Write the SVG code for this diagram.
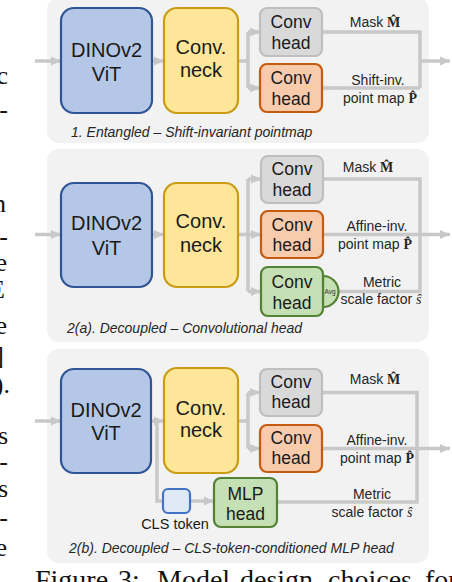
<svg xmlns="http://www.w3.org/2000/svg" width="452" height="582" viewBox="0 0 452 582">
<style>
.panel{fill:#f2f2f2}
.vit{fill:#b4c7e7;stroke:#2f5597;stroke-width:2.2}
.neck{fill:#ffe699;stroke:#c99c14;stroke-width:2.2}
.gray{fill:#d9d9d9;stroke:#bfbfbf;stroke-width:2.2}
.orange{fill:#f8cbad;stroke:#c55a11;stroke-width:2.2}
.green{fill:#c5e0b4;stroke:#548235;stroke-width:2.2}
.cls{fill:#deebf7;stroke:#4472c4;stroke-width:2.2}
.c{fill:none;stroke:#c8c8c8;stroke-width:3.5}
.a{marker-end:url(#ah)}
text{font-family:"Liberation Sans",Arial,sans-serif;fill:#1a1a1a}
.big{font-size:20px;text-anchor:middle}
.hd{font-size:17.5px;text-anchor:middle}
.lb{font-size:14px;text-anchor:middle;fill:#262626}
.cap{font-size:14px;font-style:italic;fill:#262626}
.sym{font-family:"Liberation Serif","DejaVu Serif",serif;font-weight:bold}
.si{font-family:"Liberation Serif","DejaVu Serif",serif;font-style:italic}
.pg{font-family:"Liberation Serif","Times New Roman",serif;font-size:28px;fill:#111}
.pgr{font-family:"Liberation Serif","Times New Roman",serif;font-size:26px;fill:#111;text-anchor:end}
</style>
<defs>
<marker id="ah" markerUnits="userSpaceOnUse" markerWidth="10" markerHeight="10" refX="10" refY="5" orient="auto">
<path d="M0,0.5 L10,5 L0,9.5 z" fill="#c8c8c8"/>
</marker>
</defs>
<rect width="452" height="582" fill="#ffffff"/>

<g id="page-text">
<text class="pgr" x="8" y="84">c</text>
<text class="pgr" x="8" y="118">-</text>
<text class="pgr" x="6" y="212">n</text>
<text class="pgr" x="8" y="245">t-</text>
<text class="pgr" x="7" y="271">e</text>
<text class="pgr" x="5" y="298">E</text>
<text class="pgr" x="7" y="334">e</text>
<text class="pgr" x="4" y="364">]</text>
<text class="pgr" x="10" y="393">).</text>
<text class="pgr" x="8" y="444">s</text>
<text class="pgr" x="8" y="470">-</text>
<text class="pgr" x="8" y="497">s</text>
<text class="pgr" x="8" y="526">-</text>
<text class="pgr" x="7" y="556">e</text>
<text class="pg" x="35" y="588.5">Figure</text>
<text class="pg" x="118" y="588.5">3:</text>
<text class="pg" x="157" y="588.5">Model</text>
<text class="pg" x="240" y="588.5">design</text>
<text class="pg" x="328" y="588.5">choices</text>
<text class="pg" x="425" y="588.5">for</text>
</g>

<g id="panels">
<rect class="panel" x="47" y="-2" width="382" height="145" rx="12"/>
<rect class="panel" x="47" y="149" width="382" height="193" rx="12"/>
<rect class="panel" x="47" y="349" width="382" height="214" rx="12"/>
</g>

<g id="connectors">
<path class="c a" d="M35,61 H61"/>
<path class="c a" d="M152,61 H164"/>
<path class="c" d="M238,61 H248 M248,32 V88"/>
<path class="c a" d="M248,32 H260"/>
<path class="c a" d="M248,88 H260"/>
<path class="c" d="M322,32 H420 V88 M322,88 H420"/>
<path class="c a" d="M420,61 H450"/>

<path class="c a" d="M35,234.5 H61"/>
<path class="c a" d="M152,234.5 H164"/>
<path class="c" d="M238,234.5 H248 M248,179 V291.5"/>
<path class="c a" d="M248,179 H261"/>
<path class="c a" d="M248,234.5 H261"/>
<path class="c a" d="M248,291.5 H261"/>
<path class="c" d="M323,179 H420 V291.5 H339"/>
<path class="c a" d="M323,234.5 H450"/>

<path class="c a" d="M35,421 H61"/>
<path class="c a" d="M151,421 H164"/>
<path class="c" d="M157,421 V501 H163"/>
<path class="c a" d="M190,501 H214"/>
<path class="c" d="M238,421 H248 M248,392.5 V448.5"/>
<path class="c a" d="M248,392.5 H260"/>
<path class="c a" d="M248,448.5 H260"/>
<path class="c" d="M322,392.5 H417 V502 H277"/>
<path class="c a" d="M322,448.5 H450"/>
</g>

<g id="p1-vit"><rect class="vit" x="61" y="8" width="91" height="105" rx="13"/><text class="big" x="106.5" y="57">DINOv2</text><text class="big" x="106.5" y="81">ViT</text></g>
<g id="p1-neck"><rect class="neck" x="164" y="8" width="74" height="105" rx="13"/><text class="big" x="201" y="54">Conv.</text><text class="big" x="201" y="77">neck</text></g>
<g id="p1-mask-head"><rect class="gray" x="260" y="8" width="62" height="48" rx="7"/><text class="hd" x="291" y="28">Conv</text><text class="hd" x="291" y="49">head</text></g>
<g id="p1-point-head"><rect class="orange" x="260" y="64" width="62" height="48" rx="7"/><text class="hd" x="291" y="84">Conv</text><text class="hd" x="291" y="105">head</text></g>
<g id="p1-labels">
<text class="lb" x="375" y="27">Mask <tspan class="sym">M&#x302;</tspan></text>
<text class="lb" x="378" y="85">Shift-inv.</text>
<text class="lb" x="380" y="103">point map <tspan class="sym">P&#x302;</tspan></text>
<text class="cap" x="71" y="137">1. Entangled – Shift-invariant pointmap</text>
</g>

<g id="p2-vit"><rect class="vit" x="61" y="183" width="91" height="104" rx="13"/><text class="big" x="106.5" y="230">DINOv2</text><text class="big" x="106.5" y="255">ViT</text></g>
<g id="p2-neck"><rect class="neck" x="164" y="183" width="74" height="104" rx="13"/><text class="big" x="201" y="228">Conv.</text><text class="big" x="201" y="252">neck</text></g>
<g id="p2-mask-head"><rect class="gray" x="261" y="156" width="62" height="47" rx="7"/><text class="hd" x="292" y="175">Conv</text><text class="hd" x="292" y="196">head</text></g>
<g id="p2-point-head"><rect class="orange" x="261" y="211" width="62" height="47" rx="7"/><text class="hd" x="292" y="231">Conv</text><text class="hd" x="292" y="251">head</text></g>
<g id="p2-scale-head"><path class="green" d="M323,276 A15.5,15.5 0 0 1 323,307 Z"/><rect class="green" x="261" y="267" width="62" height="49" rx="7"/><text class="hd" x="292" y="288">Conv</text><text class="hd" x="292" y="309">head</text><text x="324.5" y="294" style="font-size:6.5px;fill:#333">Avg</text></g>
<g id="p2-labels">
<text class="lb" x="368" y="172">Mask <tspan class="sym">M&#x302;</tspan></text>
<text class="lb" x="377" y="231">Affine-inv.</text>
<text class="lb" x="375" y="249">point map <tspan class="sym">P&#x302;</tspan></text>
<text class="lb" x="382" y="287">Metric</text>
<text class="lb" x="381" y="304">scale factor <tspan class="si">ŝ</tspan></text>
<text class="cap" x="67" y="333">2(a). Decoupled – Convolutional head</text>
</g>

<g id="p3-vit"><rect class="vit" x="61" y="369" width="90" height="104" rx="13"/><text class="big" x="106" y="417">DINOv2</text><text class="big" x="106" y="440">ViT</text></g>
<g id="p3-neck"><rect class="neck" x="164" y="368" width="74" height="105" rx="13"/><text class="big" x="201" y="415">Conv.</text><text class="big" x="201" y="437">neck</text></g>
<g id="p3-mask-head"><rect class="gray" x="260" y="369" width="62" height="47" rx="7"/><text class="hd" x="291" y="388">Conv</text><text class="hd" x="291" y="408">head</text></g>
<g id="p3-point-head"><rect class="orange" x="260" y="425" width="62" height="47" rx="7"/><text class="hd" x="291" y="444">Conv</text><text class="hd" x="291" y="464">head</text></g>
<g id="p3-cls"><rect class="cls" x="163" y="489" width="27" height="24" rx="5"/><text x="175" y="529" style="font-size:14.5px;text-anchor:middle">CLS token</text></g>
<g id="p3-mlp-head"><rect class="green" x="214" y="478" width="63" height="49" rx="7"/><text class="hd" x="245.5" y="500">MLP</text><text class="hd" x="245.5" y="520">head</text></g>
<g id="p3-labels">
<text class="lb" x="375" y="384">Mask <tspan class="sym">M&#x302;</tspan></text>
<text class="lb" x="377" y="445">Affine-inv.</text>
<text class="lb" x="377" y="463">point map <tspan class="sym">P&#x302;</tspan></text>
<text class="lb" x="372" y="499">Metric</text>
<text class="lb" x="372" y="517">scale factor <tspan class="si">ŝ</tspan></text>
<text class="cap" x="69" y="553">2(b). Decoupled – CLS-token-conditioned MLP head</text>
</g>
</svg>
